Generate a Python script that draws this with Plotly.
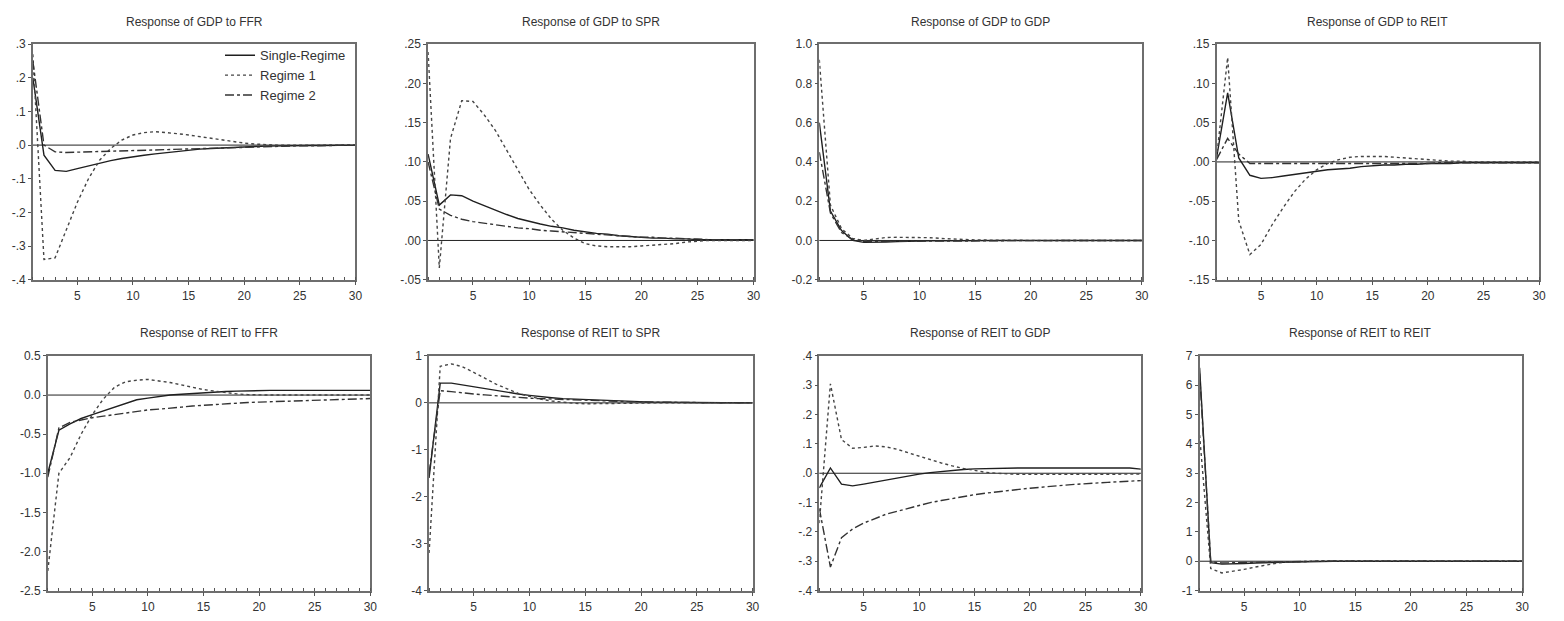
import plotly.graph_objects as go

# Forecast horizon (periods)
horizon = list(range(1, 31))

# Impulse responses: single-regime model and the two regimes of the switching model
gdp_ffr_single = [0.20, -0.03, -0.075, -0.078, -0.070, -0.062, -0.053, -0.046, -0.040, -0.034,
                  -0.030, -0.026, -0.022, -0.018, -0.015, -0.012, -0.010, -0.008, -0.006, -0.005,
                  -0.004, -0.003, -0.002, -0.002, -0.001, -0.001, -0.001, 0.0, 0.0, 0.0]
gdp_ffr_r1 = [0.27, -0.34, -0.335, -0.25, -0.17, -0.10, -0.045, -0.010, 0.015, 0.030,
              0.037, 0.040, 0.038, 0.034, 0.030, 0.025, 0.020, 0.015, 0.010, 0.006,
              0.003, 0.001, 0.0, 0.0, 0.0, 0.0, 0.0, 0.0, 0.0, 0.0]
gdp_ffr_r2 = [0.25, 0.0, -0.020, -0.022, -0.021, -0.020, -0.019, -0.018, -0.017, -0.015,
              -0.014, -0.013, -0.013, -0.012, -0.011, -0.010, -0.009, -0.008, -0.007, -0.006,
              -0.005, -0.004, -0.004, -0.003, -0.002, -0.002, -0.001, -0.001, -0.001, 0.0]

gdp_spr_single = [0.11, 0.045, 0.058, 0.057, 0.050, 0.044, 0.038, 0.033, 0.028, 0.024,
                  0.021, 0.018, 0.016, 0.013, 0.011, 0.009, 0.008, 0.006, 0.005, 0.004,
                  0.003, 0.003, 0.002, 0.002, 0.001, 0.001, 0.001, 0.001, 0.001, 0.001]
gdp_spr_r1 = [0.24, -0.035, 0.13, 0.178, 0.177, 0.16, 0.14, 0.115, 0.09, 0.065,
              0.045, 0.027, 0.013, 0.003, -0.004, -0.007, -0.008, -0.008, -0.008, -0.007,
              -0.006, -0.005, -0.004, -0.002, -0.001, 0.0, 0.0, 0.0, 0.0, 0.0]
gdp_spr_r2 = [0.10, 0.040, 0.032, 0.027, 0.024, 0.022, 0.020, 0.018, 0.016, 0.015,
              0.013, 0.012, 0.011, 0.010, 0.009, 0.008, 0.007, 0.006, 0.005, 0.004,
              0.004, 0.003, 0.003, 0.002, 0.002, 0.001, 0.001, 0.001, 0.001, 0.001]

gdp_gdp_single = [0.60, 0.15, 0.05, 0.0, -0.010, -0.010, -0.008, -0.006, -0.004, -0.003,
                  -0.002, -0.002, -0.001, -0.001, -0.001, 0.0, 0.0, 0.0, 0.0, 0.0,
                  0.0, 0.0, 0.0, 0.0, 0.0, 0.0, 0.0, 0.0, 0.0, 0.0]
gdp_gdp_r1 = [0.92, 0.18, 0.06, 0.010, 0.0, 0.008, 0.015, 0.016, 0.016, 0.015,
              0.014, 0.010, 0.007, 0.005, 0.003, 0.002, 0.001, 0.001, 0.0, 0.0,
              0.0, 0.0, 0.0, 0.0, 0.0, 0.0, 0.0, 0.0, 0.0, 0.0]
gdp_gdp_r2 = [0.45, 0.14, 0.04, 0.005, -0.005, -0.005, -0.005, -0.005, -0.004, -0.004,
              -0.003, -0.003, -0.003, -0.002, -0.002, -0.002, -0.002, -0.001, -0.001, -0.001,
              -0.001, -0.001, 0.0, 0.0, 0.0, 0.0, 0.0, 0.0, 0.0, 0.0]

gdp_reit_single = [0.005, 0.088, 0.005, -0.017, -0.021, -0.020, -0.018, -0.016, -0.014, -0.012,
                   -0.010, -0.009, -0.008, -0.006, -0.005, -0.004, -0.004, -0.003, -0.003, -0.002,
                   -0.002, -0.002, -0.001, -0.001, -0.001, -0.001, -0.001, -0.001, -0.001, -0.001]
gdp_reit_r1 = [0.005, 0.133, -0.075, -0.118, -0.105, -0.080, -0.058, -0.038, -0.022, -0.010,
               -0.002, 0.003, 0.006, 0.007, 0.007, 0.007, 0.006, 0.005, 0.004, 0.003,
               0.002, 0.001, 0.001, 0.0, 0.0, 0.0, 0.0, 0.0, 0.0, 0.0]
gdp_reit_r2 = [0.003, 0.030, 0.010, -0.002, -0.002, -0.002, -0.002, -0.002, -0.002, -0.002,
               -0.002, -0.002, -0.002, -0.002, -0.002, -0.002, -0.002, -0.002, -0.002, -0.002,
               -0.001, -0.001, -0.001, -0.001, -0.001, -0.001, -0.001, -0.001, -0.001, -0.001]

reit_ffr_single = [-1.0, -0.45, -0.37, -0.30, -0.25, -0.20, -0.15, -0.10, -0.06, -0.04,
                   -0.02, 0.0, 0.01, 0.02, 0.03, 0.04, 0.045, 0.05, 0.055, 0.06,
                   0.06, 0.06, 0.06, 0.06, 0.06, 0.06, 0.06, 0.06, 0.06, 0.06]
reit_ffr_r1 = [-2.25, -1.0, -0.80, -0.50, -0.25, -0.05, 0.10, 0.17, 0.19, 0.20,
               0.18, 0.16, 0.13, 0.10, 0.07, 0.05, 0.03, 0.015, 0.005, 0.0,
               0.0, 0.0, 0.0, 0.0, 0.0, 0.0, 0.0, 0.0, 0.0, 0.0]
reit_ffr_r2 = [-1.05, -0.42, -0.35, -0.32, -0.29, -0.27, -0.25, -0.23, -0.21, -0.19,
               -0.18, -0.17, -0.155, -0.14, -0.13, -0.12, -0.11, -0.10, -0.095, -0.09,
               -0.085, -0.08, -0.075, -0.07, -0.065, -0.06, -0.057, -0.055, -0.05, -0.045]

reit_spr_single = [-1.6, 0.42, 0.42, 0.38, 0.34, 0.30, 0.26, 0.22, 0.19, 0.16,
                   0.13, 0.11, 0.09, 0.08, 0.06, 0.05, 0.04, 0.03, 0.025, 0.02,
                   0.015, 0.012, 0.01, 0.008, 0.005, 0.004, 0.003, 0.002, 0.001, 0.0]
reit_spr_r1 = [-3.2, 0.78, 0.83, 0.77, 0.65, 0.52, 0.40, 0.30, 0.20, 0.14,
               0.08, 0.04, 0.01, -0.01, -0.02, -0.02, -0.02, -0.015, -0.01, -0.005,
               0.0, 0.0, 0.0, 0.0, 0.0, 0.0, 0.0, 0.0, 0.0, 0.0]
reit_spr_r2 = [-1.5, 0.26, 0.24, 0.21, 0.19, 0.17, 0.15, 0.13, 0.12, 0.10,
               0.09, 0.08, 0.07, 0.06, 0.05, 0.04, 0.035, 0.03, 0.025, 0.02,
               0.015, 0.01, 0.008, 0.006, 0.005, 0.004, 0.003, 0.002, 0.001, 0.0]

reit_gdp_single = [-0.05, 0.018, -0.037, -0.043, -0.037, -0.030, -0.022, -0.015, -0.010, -0.003,
                   0.002, 0.006, 0.010, 0.013, 0.015, 0.016, 0.018, 0.018, 0.018, 0.018,
                   0.018, 0.018, 0.018, 0.018, 0.018, 0.018, 0.018, 0.018, 0.018, 0.014]
reit_gdp_r1 = [-0.17, 0.305, 0.115, 0.085, 0.088, 0.093, 0.090, 0.082, 0.070, 0.058,
               0.046, 0.035, 0.025, 0.016, 0.010, 0.003, 0.0, -0.003, -0.004, -0.004,
               -0.004, -0.004, -0.004, -0.004, -0.004, -0.004, -0.003, -0.003, -0.003, -0.003]
reit_gdp_r2 = [-0.12, -0.32, -0.22, -0.19, -0.17, -0.155, -0.14, -0.13, -0.12, -0.11,
               -0.10, -0.093, -0.086, -0.080, -0.073, -0.068, -0.063, -0.059, -0.055, -0.051,
               -0.047, -0.044, -0.041, -0.038, -0.035, -0.033, -0.031, -0.029, -0.027, -0.025]

reit_reit_single = [6.6, -0.05, -0.10, -0.10, -0.08, -0.06, -0.05, -0.03, -0.02, -0.01,
                    0.0, 0.0, 0.0, 0.0, 0.0, 0.0, 0.0, 0.0, 0.0, 0.0,
                    0.0, 0.0, 0.0, 0.0, 0.0, 0.0, 0.0, 0.0, 0.0, 0.0]
reit_reit_r1 = [4.3, -0.25, -0.40, -0.35, -0.28, -0.20, -0.12, -0.06, -0.03, -0.01,
                0.0, 0.01, 0.01, 0.01, 0.01, 0.01, 0.005, 0.005, 0.0, 0.0,
                0.0, 0.0, 0.0, 0.0, 0.0, 0.0, 0.0, 0.0, 0.0, 0.0]
reit_reit_r2 = [6.4, -0.02, -0.06, -0.06, -0.05, -0.04, -0.03, -0.02, -0.01, -0.005,
                0.0, 0.0, 0.0, 0.0, 0.0, 0.0, 0.0, 0.0, 0.0, 0.0,
                0.0, 0.0, 0.0, 0.0, 0.0, 0.0, 0.0, 0.0, 0.0, 0.0]

# Panel titles
titles = ["Response of GDP to FFR", "Response of GDP to SPR", "Response of GDP to GDP",
          "Response of GDP to REIT", "Response of REIT to FFR", "Response of REIT to SPR",
          "Response of REIT to GDP", "Response of REIT to REIT"]

# Y-axis tick values and labels per panel
ytick_vals = [
    [0.3, 0.2, 0.1, 0.0, -0.1, -0.2, -0.3, -0.4],
    [0.25, 0.20, 0.15, 0.10, 0.05, 0.0, -0.05],
    [1.0, 0.8, 0.6, 0.4, 0.2, 0.0, -0.2],
    [0.15, 0.10, 0.05, 0.0, -0.05, -0.10, -0.15],
    [0.5, 0.0, -0.5, -1.0, -1.5, -2.0, -2.5],
    [1, 0, -1, -2, -3, -4],
    [0.4, 0.3, 0.2, 0.1, 0.0, -0.1, -0.2, -0.3, -0.4],
    [7, 6, 5, 4, 3, 2, 1, 0, -1],
]
ytick_text = [
    [".3", ".2", ".1", ".0", "-.1", "-.2", "-.3", "-.4"],
    [".25", ".20", ".15", ".10", ".05", ".00", "-.05"],
    ["1.0", "0.8", "0.6", "0.4", "0.2", "0.0", "-0.2"],
    [".15", ".10", ".05", ".00", "-.05", "-.10", "-.15"],
    ["0.5", "0.0", "-0.5", "-1.0", "-1.5", "-2.0", "-2.5"],
    ["1", "0", "-1", "-2", "-3", "-4"],
    [".4", ".3", ".2", ".1", ".0", "-.1", "-.2", "-.3", "-.4"],
    ["7", "6", "5", "4", "3", "2", "1", "0", "-1"],
]
xtick_vals = [5, 10, 15, 20, 25, 30]

series_names = ["Single-Regime", "Regime 1", "Regime 2"]
panel_data = [
    (gdp_ffr_single, gdp_ffr_r1, gdp_ffr_r2),
    (gdp_spr_single, gdp_spr_r1, gdp_spr_r2),
    (gdp_gdp_single, gdp_gdp_r1, gdp_gdp_r2),
    (gdp_reit_single, gdp_reit_r1, gdp_reit_r2),
    (reit_ffr_single, reit_ffr_r1, reit_ffr_r2),
    (reit_spr_single, reit_spr_r1, reit_spr_r2),
    (reit_gdp_single, reit_gdp_r1, reit_gdp_r2),
    (reit_reit_single, reit_reit_r1, reit_reit_r2),
]

W, H = 1564, 621
# Plot-area boxes in pixels: (left, right, top, bottom)
boxes = [
    (33, 357, 38, 279), (430, 757, 38, 279), (823, 1147, 38, 279), (1222, 1546, 38, 279),
    (48, 372, 357, 597), (431, 756, 357, 597), (823, 1146, 357, 597), (1205, 1529, 357, 597),
]

styles = [
    dict(color="#1f1f1f", width=1.4, dash="solid"),
    dict(color="#454545", width=1.4, dash="dot"),
    dict(color="#333333", width=1.4, dash="dashdot"),
]

FONT = "Liberation Sans, Arial, sans-serif"
fig = go.Figure()
annotations = []
shapes = []
layout = {}

for i, (data, title, box) in enumerate(zip(panel_data, titles, boxes)):
    k = "" if i == 0 else str(i + 1)
    xa, ya = "x" + k, "y" + k
    l, r, t, b = box
    for j, (vals, name, st) in enumerate(zip(data, series_names, styles)):
        fig.add_trace(go.Scatter(
            x=horizon, y=vals, mode="lines", name=name, line=st,
            xaxis=xa, yaxis=ya, showlegend=(i == 0), hoverinfo="skip",
        ))
    yv = ytick_vals[i]
    layout["xaxis" + k] = dict(
        domain=[l / W, r / W], anchor=ya, range=[1, 30],
        tickvals=xtick_vals, ticks="outside", ticklen=4, tickcolor="#555",
        minor=dict(dtick=1, tick0=1, ticks="inside", ticklen=3, tickcolor="#555"),
        showgrid=False, zeroline=False, showline=True, mirror=True,
        linecolor="#6e6e6e", linewidth=1.5,
        tickfont=dict(family=FONT, size=12, color="#333"),
    )
    layout["yaxis" + k] = dict(
        domain=[1 - b / H, 1 - t / H], anchor=xa, range=[min(yv), max(yv)],
        tickvals=yv, ticktext=ytick_text[i], ticks="outside", ticklen=3, tickcolor="#555",
        showgrid=False, zeroline=False, showline=True, mirror=True,
        linecolor="#6e6e6e", linewidth=1.5,
        tickfont=dict(family=FONT, size=12, color="#333"),
    )
    # horizontal reference line at zero
    shapes.append(dict(type="line", xref=xa + " domain", yref=ya, x0=0, x1=1, y0=0, y1=0,
                       line=dict(color="#222", width=1), layer="below"))
    annotations.append(dict(
        text=title, x=(l + r) / 2 / W, y=1 - (t - 23) / H, xref="paper", yref="paper",
        xanchor="center", yanchor="middle", showarrow=False,
        font=dict(family=FONT, size=12, color="#333"),
    ))

fig.update_layout(
    width=W, height=H, margin=dict(l=0, r=0, t=0, b=0),
    paper_bgcolor="white", plot_bgcolor="white",
    annotations=annotations, shapes=shapes,
    legend=dict(x=221 / W, y=1 - 34 / H, xanchor="left", yanchor="top",
                bgcolor="rgba(0,0,0,0)", font=dict(family=FONT, size=13, color="#333"),
                tracegroupgap=0, itemwidth=30),
    **layout,
)

fig.write_html("out.html")
